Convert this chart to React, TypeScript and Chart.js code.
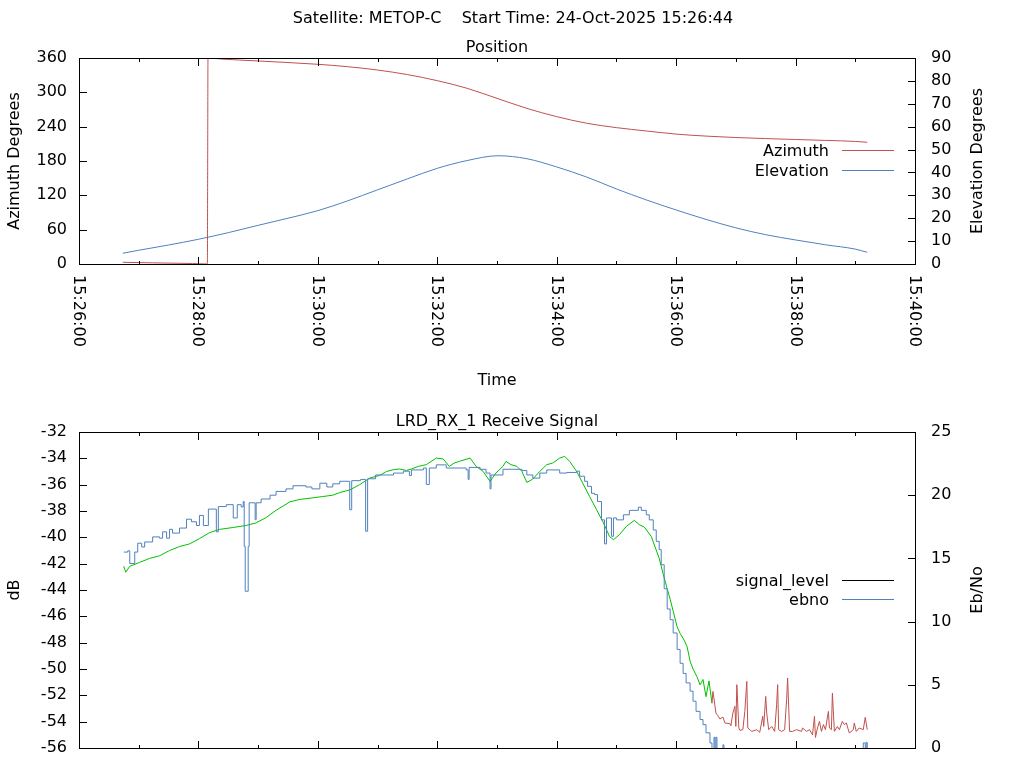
import React, { useEffect, useRef } from 'react';
import { Chart, registerables } from 'chart.js';

Chart.register(...registerables);

const FONT = "'DejaVu Sans', 'Liberation Sans', sans-serif";
const FONT_SIZE = 16;

// ---------- texts ----------
const MAIN_TITLE = 'Satellite: METOP-C    Start Time: 24-Oct-2025 15:26:44';
const POSITION_TITLE = 'Position';
const SIGNAL_TITLE = 'LRD_RX_1 Receive Signal';
const X_AXIS_TITLE = 'Time';
const AZ_AXIS_TITLE = 'Azimuth Degrees';
const EL_AXIS_TITLE = 'Elevation Degrees';
const DB_AXIS_TITLE = 'dB';
const EBNO_AXIS_TITLE = 'Eb/No';

// ---------- ticks ----------
const TIME_TICK_LABELS = ['15:26:00', '15:28:00', '15:30:00', '15:32:00', '15:34:00', '15:36:00', '15:38:00', '15:40:00'];
const AZ_TICKS = [0, 60, 120, 180, 240, 300, 360];
const EL_TICKS = [0, 10, 20, 30, 40, 50, 60, 70, 80, 90];
const DB_TICKS = [-56, -54, -52, -50, -48, -46, -44, -42, -40, -38, -36, -34, -32];
const EBNO_TICKS = [0, 5, 10, 15, 20, 25];

// ---------- series (time = seconds after 15:26:00) ----------
const AZ_T = [44, 74, 114, 129, 129.3, 129.6, 143, 180, 240, 270, 300, 330, 360, 390, 420, 450, 480, 510, 540, 570, 600, 630, 660, 690, 720, 750, 780, 792];
const AZ_DEG = [3.0, 2.0, 0.9, 0.0, 180, 360, 358.2, 354.8, 349, 344.8, 339, 331, 320.4, 307, 289.5, 272, 257.5, 246, 238.3, 232.5, 227, 223.5, 221, 219.2, 217.6, 216, 214.2, 212.7];

const EL_T = [44, 60, 90, 120, 150, 180, 210, 240, 270, 300, 330, 360, 390, 421, 450, 480, 510, 540, 570, 600, 630, 660, 690, 720, 750, 780, 792];
const EL_DEG = [4.7, 6.0, 8.3, 10.8, 13.7, 16.9, 20.0, 23.3, 27.6, 32.4, 37.2, 41.8, 45.2, 47.3, 46.0, 42.4, 38.0, 32.8, 28.0, 23.6, 19.5, 15.8, 12.8, 10.5, 8.4, 6.5, 5.1];

const SIG_LOCK_T = [45, 47, 51, 61, 71, 81, 91, 101, 111, 121, 131, 141, 155, 168, 178, 188, 198, 212, 222, 235, 245, 255, 262, 272, 282, 292, 302, 309, 316, 322, 329, 334, 341, 349, 359, 366, 372, 377, 382, 393, 399, 406, 413, 419, 426, 429, 434, 440, 445, 450, 456, 463, 470, 476, 483, 488, 493, 500, 506, 513, 520, 527, 533, 537, 543, 550, 558, 563, 568, 575, 583, 587, 591, 594, 597, 601, 604, 608, 611, 614, 617, 621, 624, 627, 630, 633, 636];
const SIG_LOCK_DB = [-42.2, -42.65, -42.2, -41.9, -41.6, -41.4, -41.0, -40.7, -40.5, -40.1, -39.65, -39.4, -39.25, -39.1, -38.9, -38.5, -37.95, -37.3, -37.12, -37.0, -36.9, -36.8, -36.6, -36.4, -36.0, -35.5, -35.3, -35.0, -34.86, -34.81, -34.92, -34.81, -34.61, -34.48, -33.98, -34.05, -34.61, -34.36, -34.23, -33.98, -34.61, -34.99, -35.75, -35.11, -34.61, -34.23, -34.48, -34.61, -34.99, -35.83, -35.57, -34.99, -34.48, -34.36, -33.98, -33.85, -34.23, -34.99, -35.87, -36.89, -37.9, -38.91, -39.93, -40.18, -39.8, -39.17, -38.71, -39.04, -39.22, -39.93, -41.6, -42.8, -43.9, -44.7, -45.6, -46.8, -47.3, -47.8, -48.3, -49.4, -50.0, -50.6, -51.2, -50.8, -52.1, -50.9, -52.6];

const SIG_UNLOCK_T = [636, 637, 640, 642, 644, 647, 649, 654, 655, 657, 659, 660, 661, 663, 664, 667, 669, 671, 672, 676, 681, 684, 687, 688, 690, 691, 693, 696, 699, 701, 702, 703, 706, 709, 711, 712, 714, 717, 721, 726, 727, 731, 734, 737, 739, 740, 742, 744, 746, 748, 750, 753, 754, 756, 757, 759, 762, 764, 767, 769, 771, 774, 778, 779, 781, 784, 788, 790, 792];
const SIG_UNLOCK_DB = [-52.6, -51.7, -53.34, -53.55, -53.8, -53.65, -54.1, -54.15, -54.31, -53.34, -52.84, -54.36, -51.19, -54.48, -54.66, -54.61, -53.22, -50.94, -54.48, -54.74, -54.61, -54.81, -53.59, -54.36, -52.08, -53.34, -54.61, -54.36, -54.74, -52.67, -51.19, -54.61, -54.74, -54.61, -52.33, -50.68, -54.74, -54.74, -54.61, -54.74, -54.48, -54.74, -54.61, -55.0, -53.59, -55.2, -54.48, -53.98, -54.74, -54.22, -54.61, -53.22, -54.48, -54.61, -51.83, -54.74, -54.36, -54.61, -53.98, -54.22, -54.1, -54.86, -54.61, -54.1, -54.74, -54.48, -54.61, -53.67, -54.61];

const EBNO_T = [45, 49, 51, 56, 59, 63, 66, 74, 81, 84, 88, 91, 94, 101, 108, 113, 118, 121, 125, 130, 138, 140, 148, 155, 159, 163, 165, 166, 167, 170, 171, 177, 178, 183, 192, 198, 208, 215, 228, 234, 242, 249, 255, 262, 272, 274, 283, 288, 290, 298, 316, 326, 332, 334, 346, 349, 352, 359, 369, 389, 391, 392, 403, 409, 413, 414, 426, 445, 450, 456, 463, 470, 483, 490, 500, 503, 508, 511, 515, 518, 521, 525, 528, 530, 535, 537, 540, 547, 553, 562, 565, 570, 573, 577, 580, 583, 585, 588, 591, 594, 597, 601, 604, 607, 610, 614, 617, 620, 624, 627, 630, 634, 636, 638, 639, 640, 641, 647, 648, 788, 790, 791, 792];
const EBNO_VAL = [15.5, 15.6, 14.6, 15.5, 16.2, 15.9, 16.3, 16.7, 16.6, 17.1, 16.6, 17.3, 17.0, 17.4, 18.1, 17.9, 17.6, 18.4, 17.6, 18.9, 17.1, 19.1, 19.25, 18.2, 19.25, 19.07, 19.5, 15.95, 12.4, 15.95, 19.4, 18.06, 19.4, 19.7, 20.0, 20.3, 20.5, 20.75, 20.65, 20.5, 20.95, 20.65, 20.9, 21.1, 18.85, 21.15, 21.25, 17.15, 21.3, 21.6, 21.75, 21.9, 21.55, 22.0, 22.15, 20.85, 22.15, 22.4, 22.15, 22.0, 21.25, 22.2, 22.05, 21.75, 20.5, 21.6, 22.05, 21.95, 21.6, 21.35, 21.75, 22.0, 21.75, 21.8, 21.9, 21.5, 21.1, 20.7, 20.15, 20.05, 19.5, 18.05, 16.15, 18.2, 16.75, 18.2, 18.05, 18.45, 18.8, 19.05, 18.8, 18.45, 18.05, 17.25, 16.35, 15.7, 14.5, 12.6, 11.0, 10.15, 9.1, 7.8, 6.7, 5.9, 5.15, 4.5, 3.7, 2.9, 2.25, 1.85, 1.2, 0.4, -5, 0.85, -5, 0.85, -5, 0.25, -5, 0.4, -5, 0.45, -5];

// ---------- colours ----------
const RED = '#c0504d';
const BLUE = '#4f81bd';
const GREEN = '#00c000';

// ---------- helpers ----------
const toSec = (l: string) => {
  const [h, m, s] = l.split(':').map(Number);
  return h * 3600 + m * 60 + s;
};
const T0 = toSec(TIME_TICK_LABELS[0]);
const X_MAJOR = TIME_TICK_LABELS.map((l) => toSec(l) - T0);
const X_MINOR = X_MAJOR.slice(1).map((v, i) => (v + X_MAJOR[i]) / 2);
const pts = (t: number[], v: number[]) => t.map((x, i) => ({ x, y: v[i] }));

type TextItem = { text: string; x: number; y: number; align: CanvasTextAlign; rot: number };
type GpCfg = {
  xLabels: boolean;
  yAxes: { id: string; side: 'left' | 'right' }[];
  legend: { label: string; color: string; dy: number }[];
  texts: (L: number, R: number, T: number, B: number, W: number) => TextItem[];
};

function makeGp(cfg: GpCfg) {
  return {
    id: 'gp',
    afterDraw(chart: any) {
      const { ctx, chartArea: a } = chart;
      const L = Math.round(a.left), R = Math.round(a.right), T = Math.round(a.top), B = Math.round(a.bottom);
      ctx.save();
      ctx.strokeStyle = '#000';
      ctx.lineWidth = 1;
      ctx.beginPath();
      ctx.rect(L + 0.5, T + 0.5, R - L, B - T);
      const xs = chart.scales.x;
      const xt = (v: number, len: number) => {
        const px = Math.round(xs.getPixelForValue(v)) + 0.5;
        ctx.moveTo(px, B + 1);
        ctx.lineTo(px, B + 1 - len);
        ctx.moveTo(px, T);
        ctx.lineTo(px, T + len);
      };
      X_MAJOR.forEach((v) => xt(v, 8));
      X_MINOR.forEach((v) => xt(v, 4));
      cfg.yAxes.forEach(({ id, side }) => {
        const sc = chart.scales[id];
        sc.ticks.forEach((t: any) => {
          const py = Math.round(sc.getPixelForValue(t.value)) + 0.5;
          if (side === 'left') {
            ctx.moveTo(L, py);
            ctx.lineTo(L + 8, py);
          } else {
            ctx.moveTo(R + 1, py);
            ctx.lineTo(R - 7, py);
          }
        });
      });
      ctx.stroke();

      cfg.legend.forEach((e) => {
        ctx.beginPath();
        ctx.strokeStyle = e.color;
        const y = T + e.dy;
        ctx.moveTo(R - 73, y);
        ctx.lineTo(R - 21, y);
        ctx.stroke();
      });

      ctx.fillStyle = '#000';
      ctx.font = `${FONT_SIZE}px ${FONT}`;
      ctx.textBaseline = 'alphabetic';
      const draw = (t: TextItem) => {
        ctx.save();
        ctx.translate(t.x, t.y);
        if (t.rot) ctx.rotate(t.rot);
        ctx.textAlign = t.align;
        ctx.fillText(t.text, 0, 0);
        ctx.restore();
      };
      cfg.legend.forEach((e) => draw({ text: e.label, x: R - 86, y: T + e.dy + 5, align: 'right', rot: 0 }));
      cfg.texts(L, R, T, B, chart.width).forEach(draw);
      if (cfg.xLabels) {
        TIME_TICK_LABELS.forEach((lab, i) => {
          const px = Math.round(xs.getPixelForValue(X_MAJOR[i])) + 0.5;
          draw({ text: lab, x: px - 5.5, y: B + 11, align: 'left', rot: Math.PI / 2 });
        });
      }
      ctx.restore();
    },
  };
}

const tickFont = { family: FONT, size: FONT_SIZE };

function yScale(ticks: number[], side: 'left' | 'right', width: number, padding: number) {
  return {
    type: 'linear',
    position: side,
    min: ticks[0],
    max: ticks[ticks.length - 1],
    afterFit: (s: any) => {
      s.width = width;
      s.paddingTop = 0;
      s.paddingBottom = 0;
    },
    ticks: {
      stepSize: ticks[1] - ticks[0],
      padding,
      color: '#000',
      font: tickFont,
      autoSkip: false,
      callback: (v: any) => String(v),
    },
    grid: { display: false, drawTicks: false, tickLength: 0 },
    border: { display: false },
  };
}

function xScale(height: number) {
  return {
    type: 'linear',
    min: X_MAJOR[0],
    max: X_MAJOR[X_MAJOR.length - 1],
    afterFit: (s: any) => {
      s.height = height;
      s.paddingLeft = 0;
      s.paddingRight = 0;
    },
    ticks: { display: false, stepSize: 60 },
    grid: { display: false, drawTicks: false, tickLength: 0 },
    border: { display: false },
  };
}

const lineDs = (data: any[], color: string, yAxisID: string, extra: any = {}) => ({
  type: 'line',
  data,
  borderColor: color,
  backgroundColor: color,
  borderWidth: 1,
  pointRadius: 0,
  tension: 0,
  fill: false,
  yAxisID,
  ...extra,
});

function topConfig(): any {
  return {
    type: 'line',
    data: {
      datasets: [
        lineDs(pts(AZ_T, AZ_DEG), RED, 'y', { cubicInterpolationMode: 'monotone' }),
        lineDs(pts(EL_T, EL_DEG), BLUE, 'y2', { cubicInterpolationMode: 'monotone' }),
      ],
    },
    options: {
      responsive: false,
      animation: false,
      events: [],
      layout: { padding: { top: 58, left: 0, right: 0, bottom: 0 } },
      plugins: { legend: { display: false }, tooltip: { enabled: false }, title: { display: false } },
      scales: {
        x: xScale(136),
        y: yScale(AZ_TICKS, 'left', 79, 12),
        y2: yScale(EL_TICKS, 'right', 109, 16),
      },
    },
    plugins: [
      makeGp({
        xLabels: true,
        yAxes: [
          { id: 'y', side: 'left' },
          { id: 'y2', side: 'right' },
        ],
        legend: [
          { label: 'Azimuth', color: RED, dy: 92.5 },
          { label: 'Elevation', color: BLUE, dy: 112.5 },
        ],
        texts: (L, R, T, B, W) => [
          { text: MAIN_TITLE, x: W / 2 + 1, y: 23, align: 'center', rot: 0 },
          { text: POSITION_TITLE, x: (L + R) / 2, y: T - 6, align: 'center', rot: 0 },
          { text: X_AXIS_TITLE, x: (L + R) / 2, y: B + 121, align: 'center', rot: 0 },
          { text: AZ_AXIS_TITLE, x: 19, y: (T + B) / 2, align: 'center', rot: -Math.PI / 2 },
          { text: EL_AXIS_TITLE, x: 982, y: (T + B) / 2, align: 'center', rot: -Math.PI / 2 },
        ],
      }),
    ],
  };
}

function bottomConfig(): any {
  return {
    type: 'line',
    data: {
      datasets: [
        lineDs(pts(EBNO_T, EBNO_VAL), BLUE, 'y2', { stepped: 'before' }),
        lineDs(pts(SIG_UNLOCK_T, SIG_UNLOCK_DB), RED, 'y'),
        lineDs(pts(SIG_LOCK_T, SIG_LOCK_DB), GREEN, 'y'),
      ],
    },
    options: {
      responsive: false,
      animation: false,
      events: [],
      layout: { padding: { top: 32, left: 0, right: 0, bottom: 0 } },
      plugins: { legend: { display: false }, tooltip: { enabled: false }, title: { display: false } },
      scales: {
        x: xScale(20),
        y: yScale(DB_TICKS, 'left', 79, 12),
        y2: yScale(EBNO_TICKS, 'right', 109, 16),
      },
    },
    plugins: [
      makeGp({
        xLabels: false,
        yAxes: [
          { id: 'y', side: 'left' },
          { id: 'y2', side: 'right' },
        ],
        legend: [
          { label: 'signal_level', color: '#000', dy: 148.5 },
          { label: 'ebno', color: BLUE, dy: 167.5 },
        ],
        texts: (L, R, T, B) => [
          { text: SIGNAL_TITLE, x: (L + R) / 2, y: T - 6, align: 'center', rot: 0 },
          { text: DB_AXIS_TITLE, x: 19, y: (T + B) / 2, align: 'center', rot: -Math.PI / 2 },
          { text: EBNO_AXIS_TITLE, x: 982, y: (T + B) / 2, align: 'center', rot: -Math.PI / 2 },
        ],
      }),
    ],
  };
}

function ChartCanvas({ make, top, height }: { make: () => any; top: number; height: number }) {
  const ref = useRef<HTMLCanvasElement>(null);
  useEffect(() => {
    const chart = new Chart(ref.current as HTMLCanvasElement, make());
    return () => chart.destroy();
  }, [make]);
  return (
    <canvas
      ref={ref}
      width={1024}
      height={height}
      style={{ position: 'absolute', left: 0, top, width: 1024, height, display: 'block' }}
    />
  );
}

Chart.defaults.font.family = FONT;
Chart.defaults.font.size = FONT_SIZE;
Chart.defaults.color = '#000';

export default function App() {
  return (
    <div
      style={{
        position: 'absolute',
        left: 0,
        top: 0,
        width: 1024,
        height: 768,
        overflow: 'hidden',
        background: '#fff',
      }}
    >
      <ChartCanvas make={topConfig} top={0} height={400} />
      <ChartCanvas make={bottomConfig} top={400} height={368} />
    </div>
  );
}
